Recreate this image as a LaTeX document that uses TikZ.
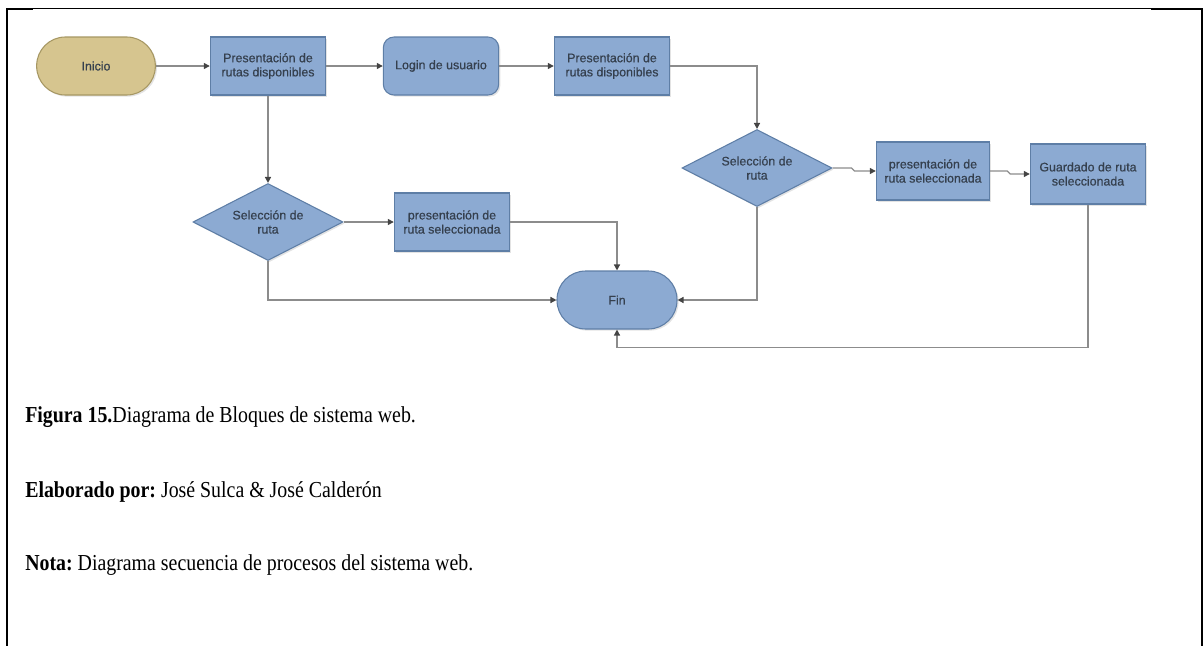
\documentclass[tikz,border=0pt]{standalone}
\usepackage{fontspec}
\usepackage{graphicx}
\setmainfont{Liberation Serif}
\setsansfont{Liberation Sans}
\newfontfamily\blockfont[FakeBold=0.6]{Liberation Sans}
\usetikzlibrary{shapes.geometric,shadows,arrows.meta}
\frenchspacing

\definecolor{procfill}{HTML}{8CAAD2}
\definecolor{procedge}{HTML}{5E7EA6}
\definecolor{startfill}{HTML}{D6C58F}
\definecolor{startedge}{HTML}{A69763}
\definecolor{linkgray}{HTML}{8C8C8C}
\definecolor{tipgray}{HTML}{444444}
\definecolor{labelgray}{HTML}{35404E}

\newcommand{\tallline}[1]{\scalebox{1}[1.15]{#1}}

\tikzset{
  shade/.style={drop shadow={opacity=0.22, shadow xshift=1.2pt, shadow yshift=-1.2pt}},
  lbl/.style={font=\blockfont\fontsize{9.3}{10.6}\selectfont, text=labelgray, align=center},
  procbox/.style={rectangle, draw=procedge, fill=procfill, line width=0.8pt,
    minimum width=86.5pt, minimum height=43.5pt, inner sep=1pt, lbl, shade},
  loginbox/.style={procbox, rounded corners=8pt},
  terminal/.style={rectangle, rounded corners=21.5pt, line width=0.8pt,
    minimum width=89pt, minimum height=43.5pt, inner sep=1pt, lbl, shade},
  decision/.style={diamond, draw=procedge, fill=procfill, line width=0.8pt,
    minimum width=112.5pt, minimum height=57.75pt, inner sep=0pt, shade,
    label={[lbl, inner sep=0pt]center:#1}},
  conn/.style={draw=linkgray, line width=1pt,
    -{Triangle[length=4.5pt,width=4.5pt,color=tipgray]}},
  caption/.style={anchor=base west, inner sep=0pt, font=\fontsize{14.9}{17}\selectfont},
  frameline/.style={line width=1.5pt, line cap=rect}
}

\begin{document}
\begin{tikzpicture}[x=0.75pt, y=-0.75pt]
\useasboundingbox (0,0) rectangle (1204,646);

% page frame (open at the bottom)
\draw[frameline] (7,646) -- (7,8.5);
\draw[frameline] (1202,646) -- (1202,8.5);
\draw[line width=0.75pt] (7,8) -- (1202,8);
\draw[line width=1.5pt] (7,8.5) -- (33,8.5);
\draw[line width=1.5pt] (1151,8.5) -- (1202,8.5);

% flow blocks
\node[terminal, draw=startedge, fill=startfill] (inicio) at (96,66) {Inicio};
\node[procbox] (pres1) at (268,66) {Presentación de\\rutas disponibles};
\node[loginbox] (login) at (441,66) {Login de usuario};
\node[procbox] (pres2) at (612,66) {Presentación de\\rutas disponibles};

\node[decision={Selección de\\ruta}] (selR) at (757,168) {};
\node[procbox, minimum width=85pt] (presR) at (933,171) {presentación de\\ruta seleccionada};
\node[procbox, minimum height=45pt] (guard) at (1088,174) {Guardado de ruta\\seleccionada};

\node[decision={Selección de\\ruta}] (selL) at (268,222) {};
\node[procbox] (presL) at (452,222) {presentación de\\ruta seleccionada};

\node[terminal, draw=procedge, fill=procfill, minimum width=90pt] (fin) at (617,300) {Fin};

% connectors
\draw[conn] (inicio) -- (pres1);
\draw[conn] (pres1) -- (login);
\draw[conn] (login) -- (pres2);
\draw[conn] (pres2.east) -| (selR.north);
\draw[conn] (pres1.south) -- (selL.north);
\draw[conn] (selL.east) -- (presL.west);
\draw[conn] (presL.east) -| (fin.north);
\draw[conn] (selL.south) |- (fin.west);
\draw[conn] (selR.south) |- (fin.east);
\draw[conn] (selR.east) -- ++(19,0) -- ++(3,3) -- (presR.west);
\draw[conn] (presR.east) -- ++(17,0) -- ++(3,3) -- (guard.west);
\draw[conn] (guard.south) -- ++(0,143) -| (fin.south);

% caption lines
\node[caption] (cap1) at (25,422) {\tallline{\textbf{Figura 15.}Diagrama de Bloques de sistema web.}};
\node[caption] (cap2) at (25,497) {\tallline{\textbf{Elaborado por:} José Sulca \& José Calderón}};
\node[caption] (cap3) at (25,570) {\tallline{\textbf{Nota:} Diagrama secuencia de procesos del sistema web.}};
\end{tikzpicture}
\end{document}
